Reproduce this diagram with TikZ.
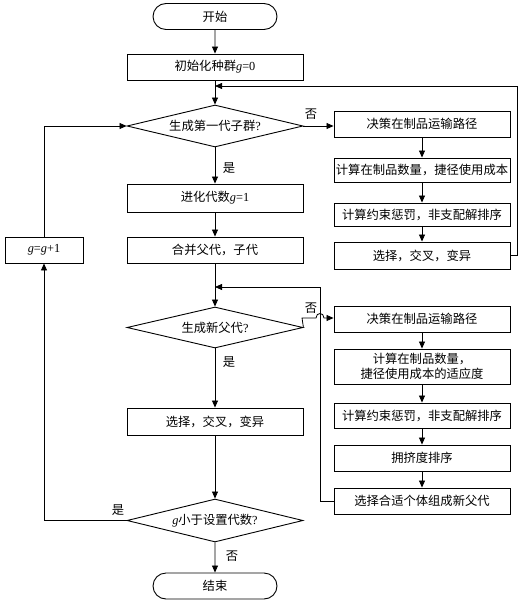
\documentclass[tikz,border=0pt]{standalone}
\usepackage{fontspec}
\setmainfont{Liberation Serif}
\newfontfamily\cjk{Noto Sans CJK SC}
\usetikzlibrary{shapes.geometric,shapes.misc,arrows.meta}
\newcommand\gv{{\rmfamily\itshape g}}
\newcommand\rmt[1]{{\rmfamily #1}}
\begin{document}
\begin{tikzpicture}[x=1pt,y=-1pt,
  font=\cjk\fontsize{12.3}{15}\selectfont,
  box/.style={draw,line width=0.9pt,minimum width=176pt,minimum height=26pt,inner sep=1pt,align=center},
  term/.style={draw,line width=0.9pt,rounded rectangle,minimum width=126pt,minimum height=26pt,inner sep=1pt},
  dec/.style={draw,line width=0.9pt,diamond,aspect=4.2,minimum width=176pt,minimum height=42pt,inner sep=0pt},
  conn/.style={line width=0.8pt},
  arr/.style={conn,-{Triangle[length=7pt,width=6pt]}},
  lbl/.style={inner sep=1pt}]
\useasboundingbox[fill=white] (0,0) rectangle (531,604);
% main column
\node[term] (start) at (215,16.5) {开始};
\node[box] (init) at (215,67) {初始化种群\gv\rmt{=0}};
\node[dec] (d1) at (215,126) {生成第一代子群\rmt{?}};
\node[box,minimum height=28pt] (gen) at (215,198) {进化代数\gv\rmt{=1}};
\node[box] (merge) at (215,250) {合并父代，子代};
\node[dec,minimum height=41pt] (d2) at (215,327.5) {生成新父代\rmt{?}};
\node[box,minimum height=27pt] (sel) at (215,421.5) {选择，交叉，变异};
\node[dec,minimum height=43pt] (d3) at (215,520.5) {\gv 小于设置代数\rmt{?}};
\node[term] (end) at (215,586) {结束};
% left
\node[box,minimum width=78pt] (gg) at (44,250) {\gv\rmt{=}\gv\rmt{+1}};
% right column 1
\node[box] (r1) at (422,124) {决策在制品运输路径};
\node[box,minimum height=24pt] (r2) at (422,170) {计算在制品数量，捷径使用成本};
\node[box,minimum height=23pt] (r3) at (422,214.5) {计算约束惩罚，非支配解排序};
\node[box,minimum height=27pt] (r4) at (422,255.5) {选择，交叉，变异};
% right column 2
\node[box] (r5) at (422,319) {决策在制品运输路径};
\node[box,minimum height=35pt] (r6) at (422,366.5) {计算在制品数量，\\捷径使用成本的适应度};
\node[box,minimum height=25pt] (r7) at (422,415.5) {计算约束惩罚，非支配解排序};
\node[box] (r8) at (422,458) {拥挤度排序};
\node[box] (r9) at (422,501) {选择合适个体组成新父代};
% junction coordinates
\coordinate (j1) at (215,86);
\coordinate (j2) at (215,287);
% main flow
\draw[arr] (start) -- (init);
\draw[arr] (init) -- (d1);
\draw[arr] (d1) -- (gen);
\node[lbl] at (229,168) {是};
\draw[arr] (gen) -- (merge);
\draw[arr] (merge) -- (d2);
\draw[arr] (d2) -- (sel);
\node[lbl] at (229,362) {是};
\draw[arr] (sel) -- (d3);
\draw[arr] (d3) -- (end);
\node[lbl] at (232,556) {否};
% first loop
\draw[arr] (d1.east) -- (d1.east -| r1.west);
\node[lbl] at (311,114) {否};
\draw[arr] (r1) -- (r2);
\draw[arr] (r2) -- (r3);
\draw[arr] (r3) -- (r4);
\draw[arr] (r4.east) -- (517,255.5) -- (517,86) -- (j1);
% second loop
\draw[arr] (d2.east) -- (302,318) -- (316,318) .. controls (316,312) and (324,312) .. (324,318) -- (r5.west |- 0,318);
\node[lbl] at (311,308) {否};
\draw[arr] (r5) -- (r6);
\draw[arr] (r6) -- (r7);
\draw[arr] (r7) -- (r8);
\draw[arr] (r8) -- (r9);
\draw[arr] (r9.west) -- (320,501) -- (320,287) -- (j2);
% outer loop
\draw[arr] (d3.west) -- (44,520.5) -- (gg.south);
\node[lbl] at (118,510) {是};
\draw[arr] (gg.north) -- (44,126) -- (d1.west);
\end{tikzpicture}
\end{document}
